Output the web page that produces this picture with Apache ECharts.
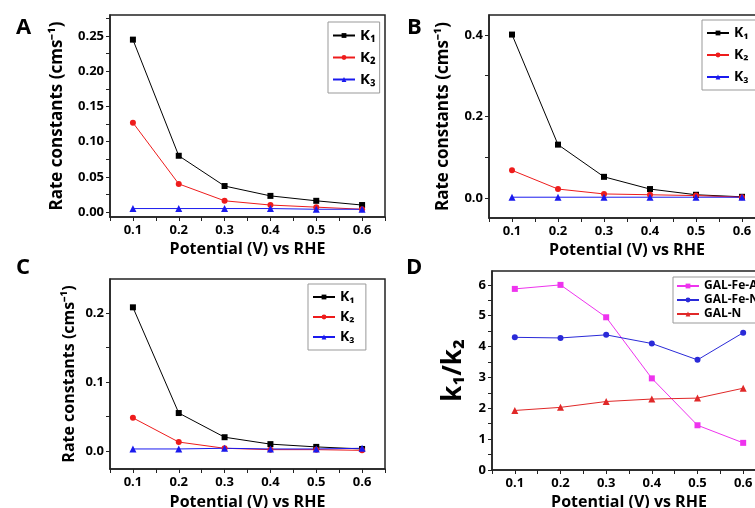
<!DOCTYPE html>
<html>
<head>
<meta charset="utf-8">
<script src="https://cdn.jsdelivr.net/npm/echarts@6/dist/echarts.min.js"></script>
<style>
  html, body { margin: 0; padding: 0; background: #fff; }
  #chart { width: 755px; height: 508px; }
</style>
</head>
<body>
<div id="chart"></div>
<script>
// x positions (V vs RHE)
const potentials = [0.1, 0.2, 0.3, 0.4, 0.5, 0.6];

// panel A
const aK1 = [0.245, 0.080, 0.037, 0.023, 0.016, 0.010];
const aK2 = [0.127, 0.040, 0.016, 0.010, 0.007, 0.004];
const aK3 = [0.005, 0.005, 0.005, 0.005, 0.004, 0.004];
// panel B
const bK1 = [0.401, 0.131, 0.052, 0.022, 0.008, 0.003];
const bK2 = [0.068, 0.022, 0.010, 0.008, 0.006, 0.002];
const bK3 = [0.002, 0.002, 0.002, 0.002, 0.002, 0.002];
// panel C
const cK1 = [0.208, 0.055, 0.020, 0.010, 0.006, 0.003];
const cK2 = [0.048, 0.013, 0.004, 0.002, 0.002, 0.001];
const cK3 = [0.003, 0.003, 0.004, 0.003, 0.003, 0.004];
// panel D  (k1/k2)
const dFeA = [5.87, 6.00, 4.95, 2.97, 1.45, 0.88];
const dFeN = [4.30, 4.28, 4.38, 4.10, 3.57, 4.45];
const dN   = [1.93, 2.03, 2.22, 2.30, 2.33, 2.65];

// tick labels
const xLabels = [0.1, 0.2, 0.3, 0.4, 0.5, 0.6];
const xMinor = [0.05, 0.15, 0.25, 0.35, 0.45, 0.55, 0.65];
const aYLabels = [0, 0.05, 0.10, 0.15, 0.20, 0.25];
const aYMinor = [0.025, 0.075, 0.125, 0.175, 0.225, 0.275];
const bYLabels = [0, 0.2, 0.4];
const bYMinor = [0.1, 0.3];
const cYLabels = [0, 0.1, 0.2];
const cYMinor = [0.05, 0.15];
const dYLabels = [0, 1, 2, 3, 4, 5, 6];
const dYMinor = [0.5, 1.5, 2.5, 3.5, 4.5, 5.5];

const FONT = 'Open Sans';
const pts = ys => potentials.map((x, i) => [x, ys[i]]);

var chart = echarts.init(document.getElementById('chart'));

function xAx(idx, gap) {
  return {
    type: 'value', gridIndex: idx, min: 0.05, max: 0.65,
    name: 'Potential (V) vs RHE', nameLocation: 'middle', nameGap: gap,
    nameTextStyle: { fontFamily: FONT, fontWeight: 'bold', fontSize: 16, color: '#000' },
    axisLine: { onZero: false, lineStyle: { color: '#222', width: 1.5 } },
    axisTick: { customValues: xLabels.concat(xMinor), length: 4, lineStyle: { color: '#222' } },
    axisLabel: { customValues: xLabels, formatter: v => v.toFixed(1), margin: 7,
      fontFamily: FONT, fontWeight: 'bold', fontSize: 13, color: '#000' },
    splitLine: { show: false }
  };
}

function yAx(idx, min, max, labels, minor, dec, name, gap, nameSize) {
  return {
    type: 'value', gridIndex: idx, min: min, max: max,
    name: name, nameLocation: 'middle', nameGap: gap,
    nameTextStyle: { fontFamily: FONT, fontWeight: 'bold', fontSize: nameSize, color: '#000' },
    axisLine: { show: true, onZero: false, lineStyle: { color: '#222', width: 1.5 } },
    axisTick: { show: true, customValues: labels.concat(minor), length: 4, lineStyle: { color: '#222' } },
    axisLabel: { customValues: labels, formatter: v => v.toFixed(dec), margin: 6,
      fontFamily: FONT, fontWeight: 'bold', fontSize: 13, color: '#000' },
    splitLine: { show: false }
  };
}

function line(name, idx, ys, color, symbol) {
  return {
    name: name, type: 'line', xAxisIndex: idx, yAxisIndex: idx,
    data: pts(ys), symbol: symbol, symbolSize: symbol === 'triangle' ? 7 : 6,
    itemStyle: { color: color }, lineStyle: { color: color, width: 1 },
    animation: false
  };
}

function legend(idx, left, top, names, size, gap, pad) {
  return {
    orient: 'vertical', left: left, top: top, data: names,
    borderColor: '#999', borderWidth: 1, borderRadius: 0,
    padding: pad, itemGap: gap, itemWidth: 22, itemHeight: 6,
    textStyle: { fontFamily: FONT, fontWeight: 'bold', fontSize: size, lineHeight: size + 2, color: '#000' }
  };
}

var option = {
  backgroundColor: '#fff',
  animation: false,
  title: [
    { text: 'A', left: 11, top: 12 },
    { text: 'B', left: 402, top: 12 },
    { text: 'C', left: 11, top: 252 },
    { text: 'D', left: 401, top: 252 }
  ].map(t => Object.assign(t, { textStyle: { fontFamily: FONT, fontWeight: 'bold', fontSize: 22, color: '#000' } })),
  grid: [
    { left: 110, top: 15, width: 275, height: 202 },
    { left: 489, top: 15, width: 276, height: 203 },
    { left: 110, top: 279, width: 275, height: 190 },
    { left: 492, top: 271, width: 274, height: 199 }
  ].map(g => Object.assign(g, { show: true, borderColor: '#222', borderWidth: 1.5, containLabel: false, outerBoundsMode: 'none' })),
  xAxis: [xAx(0, 24), xAx(1, 24), xAx(2, 25), xAx(3, 24)],
  yAxis: [
    yAx(0, -0.007, 0.28, aYLabels, aYMinor, 2, 'Rate constants (cms⁻¹)', 44, 17),
    yAx(1, -0.049, 0.449, bYLabels, bYMinor, 1, 'Rate constants (cms⁻¹)', 37, 17),
    yAx(2, -0.026, 0.249, cYLabels, cYMinor, 1, 'Rate constants (cms⁻¹)', 33, 16),
    yAx(3, 0, 6.45, dYLabels, dYMinor, 0, 'k₁/k₂', 25, 26)
  ],
  legend: [
    legend(0, 328, 22, ['K₁', 'K₂', 'K₃'], 15, 5, [5, 4, 5, 4]),
    legend(1, 702, 20, ['K₁ ', 'K₂ ', 'K₃ '], 14, 6, [5, 4, 5, 4]),
    legend(2, 308, 284, ['K₁  ', 'K₂  ', 'K₃  '], 14, 4, [5, 4, 5, 4]),
    legend(3, 673, 277, ['GAL-Fe-A', 'GAL-Fe-N', 'GAL-N'], 12, 0, [2, 4, 2, 3])
  ],
  series: [
    line('K₁', 0, aK1, '#000000', 'rect'),
    line('K₂', 0, aK2, '#ee1c1c', 'circle'),
    line('K₃', 0, aK3, '#1a1aee', 'triangle'),
    line('K₁ ', 1, bK1, '#000000', 'rect'),
    line('K₂ ', 1, bK2, '#ee1c1c', 'circle'),
    line('K₃ ', 1, bK3, '#1a1aee', 'triangle'),
    line('K₁  ', 2, cK1, '#000000', 'rect'),
    line('K₂  ', 2, cK2, '#ee1c1c', 'circle'),
    line('K₃  ', 2, cK3, '#1a1aee', 'triangle'),
    line('GAL-Fe-A', 3, dFeA, '#ee33ee', 'rect'),
    line('GAL-Fe-N', 3, dFeN, '#2a2ad8', 'circle'),
    line('GAL-N', 3, dN, '#e02828', 'triangle')
  ]
};

chart.setOption(option);
</script>
</body>
</html>
